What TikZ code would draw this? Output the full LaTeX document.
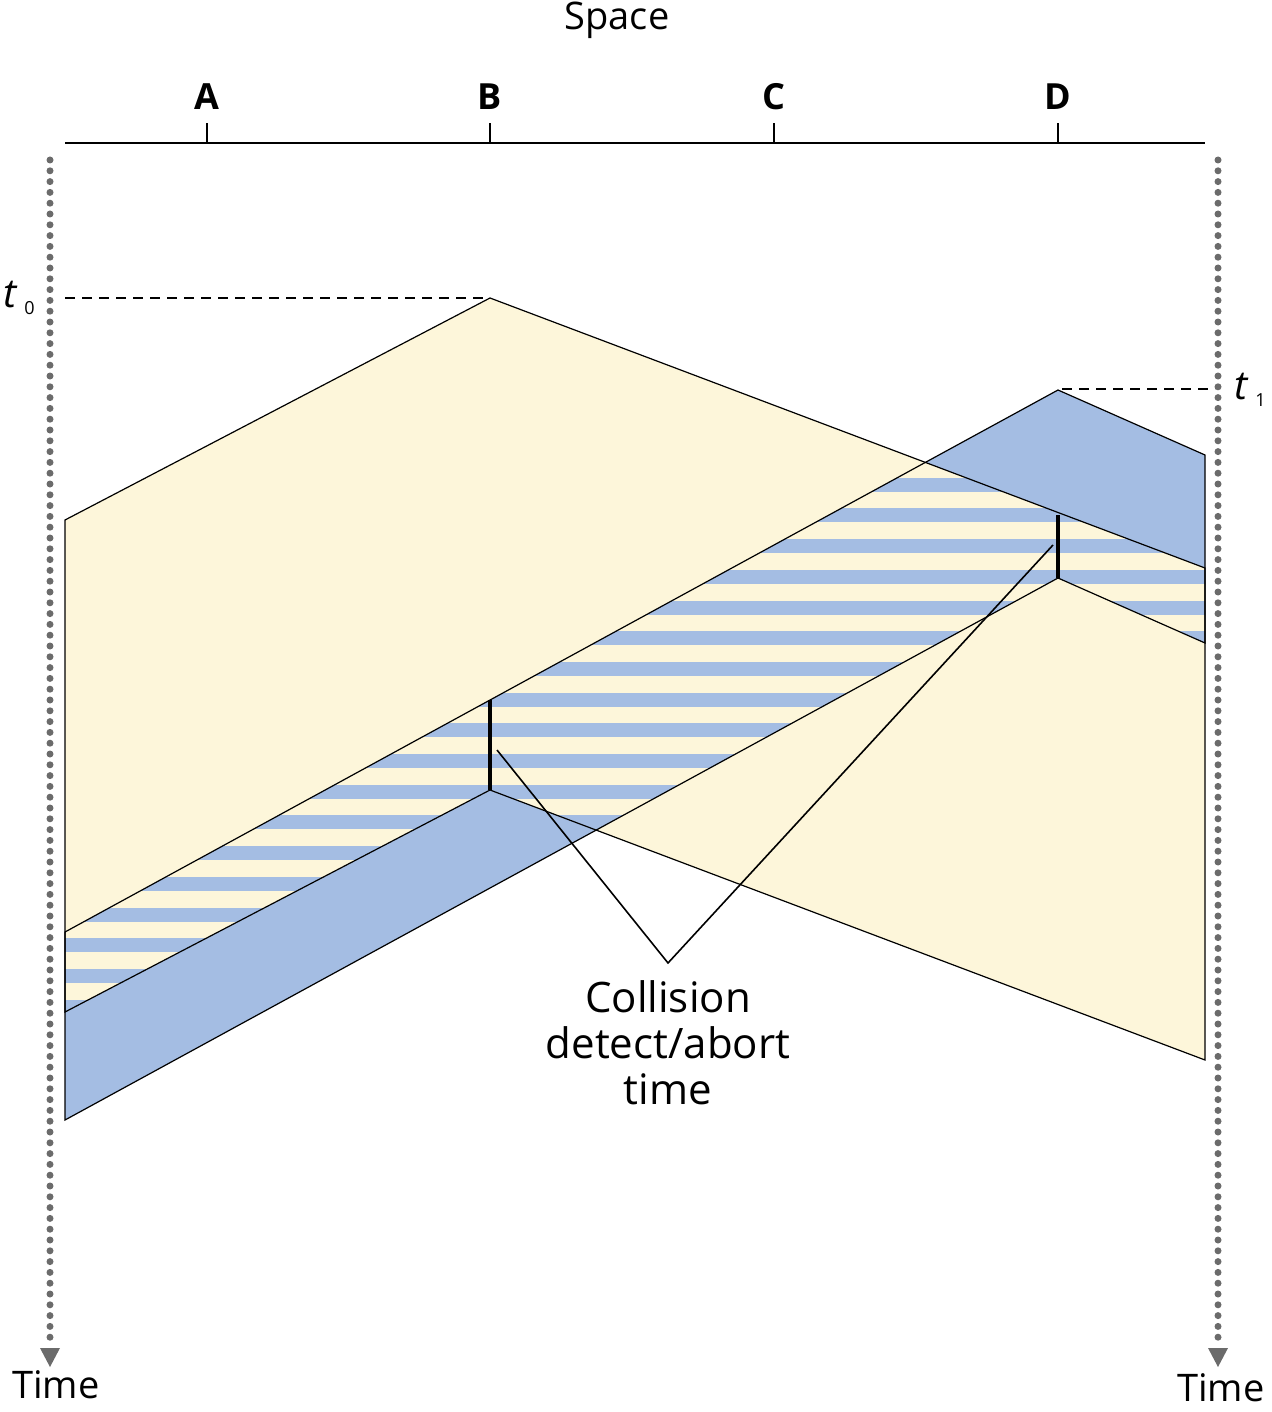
\documentclass[tikz,border=0pt]{standalone}
\usepackage{fontspec}
\setmainfont{Open Sans}
\begin{document}
\begin{tikzpicture}[x=0.5pt,y=-0.5pt,
  lab/.style={font=\fontsize{18}{22}\selectfont\bfseries},
  txt/.style={font=\fontsize{19}{23}\selectfont},
  edge/.style={line width=0.6pt,black},
  dotl/.style={draw=gray!110!black,color=black!58,line width=3.5pt,line cap=round,dash pattern=on 0pt off 5.4pt},
  dashl/.style={line width=0.8pt,dash pattern=on 5pt off 3.5pt}]
\definecolor{yel}{HTML}{FDF6DA}
\definecolor{blu}{HTML}{A4BDE3}
\useasboundingbox (0,0) rectangle (1272,1412);
% regions
\def\yel{(65,520)--(490,298)--(1205,568)--(1205,1060)--(490,790)--(65,1012)--cycle}
\def\blu{(65,932)--(1058,390)--(1205,455)--(1205,643)--(1058,578)--(65,1120)--cycle}
\fill[yel] \yel;
\fill[blu] \blu;
\begin{scope}
\clip \yel; \clip \blu;
\fill[yel] (0,0) rectangle (1272,1412);
\foreach \k in {0,...,19} {\fill[blu] (0,{447+30.7*\k}) rectangle (1272,{461+30.7*\k});}
\end{scope}
\draw[edge] \yel;
\draw[edge] \blu;
% axis
\draw[line width=1pt] (65,143)--(1205,143);
\foreach \x/\n in {207/A,490/B,774/C,1058/D}{
  \draw[line width=1pt] (\x,143)--(\x,123);
  \node[lab] (l\n) at (\x,97) {\n};}
\node[txt] (space) at (617,20) {Space};
% time axes
\draw[dotl] (50,160)--(50,1340);
\draw[dotl] (1218,160)--(1218,1340);
\fill[black!58] (40,1348)--(60,1348)--(50,1367)--cycle;
\fill[black!58] (1208,1348)--(1228,1348)--(1218,1367)--cycle;
\node[txt] (time1) at (56,1385) {Time};
\node[txt] (time2) at (1221,1388) {Time};
% t0 t1
\coordinate (pB) at (490,298);
\coordinate (pD) at (1062,389);
\node[font=\fontsize{20}{24}\selectfont] (t0) at (19,298) {\textit{t}\,\raisebox{-0.35ex}{\small 0}};
\node[font=\fontsize{20}{24}\selectfont] (t1) at (1250,390) {\textit{t}\,\raisebox{-0.35ex}{\small 1}};
\draw[dashl] (65,298)--(pB);
\draw[dashl] (pD)--(1215,389);
% detection
\draw[line width=1.6pt] (490,700)--(490,790);
\draw[line width=1.6pt] (1058,515)--(1058,578);
\coordinate (apex) at (668,963);
\coordinate (cb) at (497,750);
\coordinate (cd) at (1053,545);
\draw[line width=0.8pt] (cb)--(apex)--(cd);
\node[txt,align=center,font=\fontsize{21}{23}\selectfont] (coll) at (668,1043) {Collision\\detect/abort\\time};
\end{tikzpicture}
\end{document}
